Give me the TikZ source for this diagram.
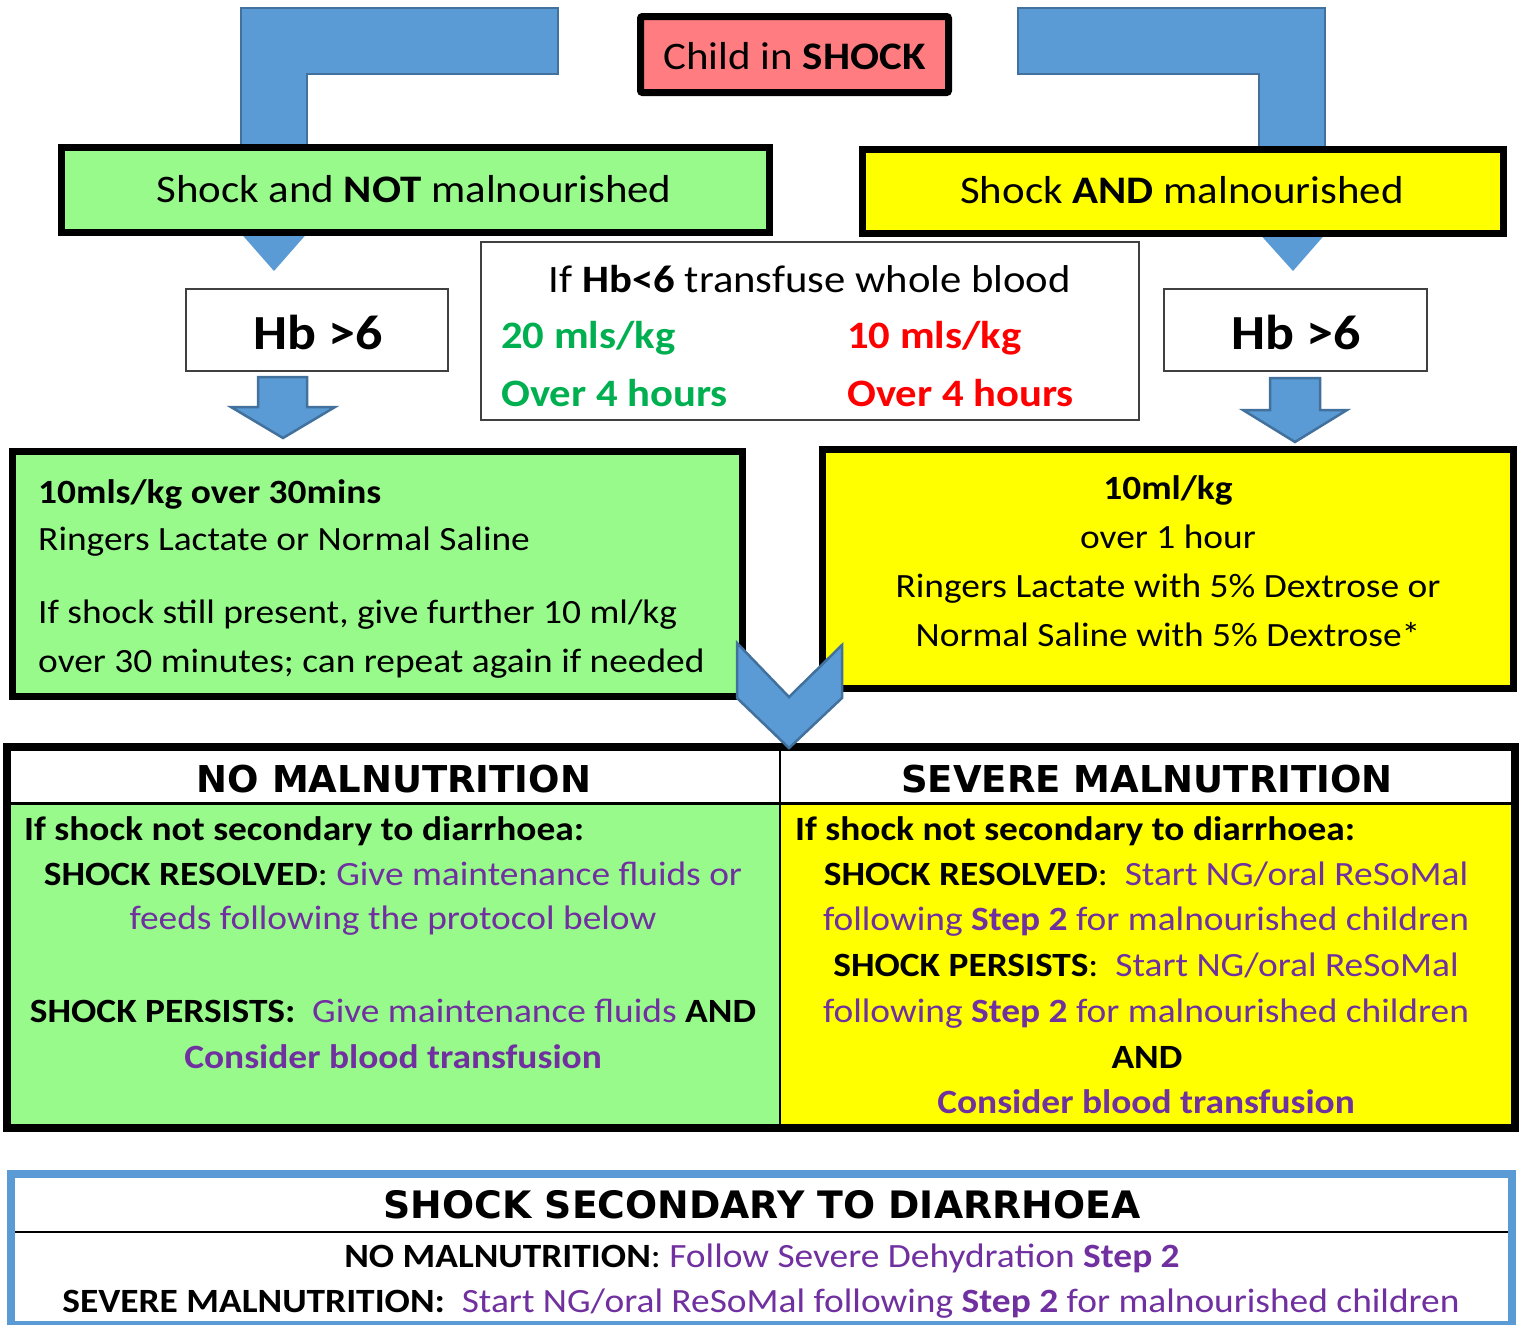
\documentclass[tikz,border=0pt]{standalone}
\usepackage{fontspec}
\setmainfont{Carlito}[FakeStretch=1.1]
\newfontfamily\headfont{DejaVu Sans}[BoldFont={DejaVu Sans Bold}]
\definecolor{arrowblue}{HTML}{5B9BD5}
\definecolor{arrowedge}{HTML}{41719C}
\definecolor{leafgreen}{HTML}{99FA8C}
\definecolor{signyellow}{HTML}{FFFF00}
\definecolor{rosefill}{HTML}{FF7C80}
\definecolor{txtpurple}{HTML}{7030A0}
\definecolor{txtgreen}{HTML}{00B050}
\definecolor{txtred}{HTML}{FF0000}
\definecolor{thinedge}{HTML}{404040}
\newcommand{\fs}[1]{\fontsize{#1}{#1}\selectfont}
\newcommand{\pur}[1]{\textcolor{txtpurple}{#1}}
\begin{document}
\begin{tikzpicture}[x=1pt,y=-1pt,
  blockarrow/.style={fill=arrowblue,draw=arrowedge,line width=2.5pt,line join=miter},
  tip/.style={fill=arrowblue},
  heavybox/.style={draw=black,line width=7pt,line join=miter},
  thinbox/.style={draw=thinedge,line width=1.5pt,fill=white},
  txt/.style={inner sep=0pt,font=\fs{34}},
  tabtxt/.style={inner sep=0pt,font=\fs{34}},
  headtxt/.style={inner sep=0pt,font=\headfont\bfseries\fs{37}}]
\useasboundingbox (0,0) rectangle (1524,1325);
\fill[white] (0,0) rectangle (1524,1325);

% L-shaped arrows from the title down to the two branches
\draw[blockarrow] (241,8) -- (558,8) -- (558,74) -- (307,74) -- (307,147) -- (241,147) -- cycle;
\draw[blockarrow] (1018,8) -- (1325,8) -- (1325,149) -- (1259,149) -- (1259,74) -- (1018,74) -- cycle;

% small pointers below the branch boxes
\fill[tip] (238,230) -- (310,230) -- (274,271) -- cycle;
\fill[tip] (1257,231) -- (1328,231) -- (1293,271) -- cycle;

% title
\node (title) [heavybox,fill=rosefill,rounded corners=2pt,minimum width=308pt,minimum height=76pt,inner sep=0pt] at (794.5,54.5) {};
\node (titletxt) [inner sep=0pt,font=\fs{39},anchor=base] at (794.5,69) {Child in \textbf{SHOCK}};

% branch boxes
\node (leftbranch) [heavybox,fill=leafgreen,minimum width=708pt,minimum height=85pt,inner sep=0pt] at (415,189.5) {};
\node (leftbranchtxt) [inner sep=0pt,font=\fs{39},anchor=base] at (414,202) {Shock and \textbf{NOT} malnourished};
\node (rightbranch) [heavybox,fill=signyellow,minimum width=641pt,minimum height=84pt,inner sep=0pt] at (1182.5,191) {};
\node (rightbranchtxt) [inner sep=0pt,font=\fs{39},anchor=base] at (1182,203) {Shock \textbf{AND} malnourished};

% haemoglobin checks
\node (hbleft) [thinbox,minimum width=262pt,minimum height=82pt,inner sep=0pt] at (317,330) {};
\node (hblefttxt) [inner sep=0pt,font=\bfseries\fs{49},anchor=base] at (318,349) {Hb >6};
\node (hbright) [thinbox,minimum width=263pt,minimum height=82pt,inner sep=0pt] at (1295.5,330) {};
\node (hbrighttxt) [inner sep=0pt,font=\bfseries\fs{49},anchor=base] at (1296,349) {Hb >6};

% transfusion box
\node (transf) [thinbox,minimum width=658pt,minimum height=178pt,inner sep=0pt] at (810,331) {};
\node (transf1) [inner sep=0pt,font=\fs{38.8},anchor=base] at (810,292) {If \textbf{Hb<6} transfuse whole blood};
\node (transf2) [inner sep=0pt,font=\bfseries\fs{38.8},anchor=base west,text=txtgreen] at (501,348) {20 mls/kg};
\node (transf3) [inner sep=0pt,font=\bfseries\fs{38.8},anchor=base west,text=txtred] at (847,348) {10 mls/kg};
\node (transf4) [inner sep=0pt,font=\bfseries\fs{38.8},anchor=base west,text=txtgreen] at (501,406) {Over 4 hours};
\node (transf5) [inner sep=0pt,font=\bfseries\fs{38.8},anchor=base west,text=txtred] at (847,406) {Over 4 hours};

% block arrows below the Hb checks
\draw[blockarrow] (258,377) -- (307,377) -- (307,407) -- (335,407) -- (283,438) -- (231,407) -- (258,407) -- cycle;
\draw[blockarrow] (1270,378) -- (1320,378) -- (1320,410) -- (1347,410) -- (1295,442) -- (1243,410) -- (1270,410) -- cycle;

% fluid boxes
\node (fluidleft) [heavybox,fill=leafgreen,minimum width=730pt,minimum height=245pt,inner sep=0pt] at (377.5,574) {};
\node (fl1) [txt,anchor=base west,font=\bfseries\fs{34}] at (38,503) {10mls/kg over 30mins};
\node (fl2) [txt,anchor=base west] at (38,550) {Ringers Lactate or Normal Saline};
\node (fl3) [txt,anchor=base west] at (38,623) {If shock still present, give further 10 ml/kg};
\node (fl4) [txt,anchor=base west] at (38,672) {over 30 minutes; can repeat again if needed};

\node (fluidright) [heavybox,fill=signyellow,minimum width=691pt,minimum height=239pt,inner sep=0pt] at (1168,569) {};
\node (fr1) [txt,anchor=base,font=\bfseries\fs{34}] at (1168,499) {10ml/kg};
\node (fr2) [txt,anchor=base] at (1168,548) {over 1 hour};
\node (fr3) [txt,anchor=base] at (1168,597) {Ringers Lactate with 5\% Dextrose or};
\node (fr4) [txt,anchor=base] at (1168,646) {Normal Saline with 5\% Dextrose*};

% outcome table
\node (table) [heavybox,line width=8pt,fill=white,minimum width=1508pt,minimum height=381pt,inner sep=0pt] at (761,937.5) {};
\fill[leafgreen] (11,805) rectangle (780,1124);
\fill[signyellow] (780,805) rectangle (1511,1124);
\draw[line width=3pt] (11,803.5) -- (1511,803.5);
\draw[line width=2pt] (780,751) -- (780,1124);
\node (thno) [headtxt,anchor=base] at (394,792) {NO MALNUTRITION};
\node (thsev) [headtxt,anchor=base] at (1147,792) {SEVERE MALNUTRITION};

\node (l1) [tabtxt,anchor=base west,font=\bfseries\fs{34}] at (24,840) {If shock not secondary to diarrhoea:};
\node (l2) [tabtxt,anchor=base] at (393,885) {\textbf{SHOCK RESOLVED}: \pur{Give maintenance fluids or}};
\node (l3) [tabtxt,anchor=base] at (393,929) {\pur{feeds following the protocol below}};
\node (l4) [tabtxt,anchor=base] at (393,1022) {\textbf{SHOCK PERSISTS:}~~\pur{Give maintenance fluids} \textbf{AND}};
\node (l5) [tabtxt,anchor=base,font=\bfseries\fs{34}] at (393,1068) {\pur{Consider blood transfusion}};

\node (r1) [tabtxt,anchor=base west,font=\bfseries\fs{34}] at (795,840) {If shock not secondary to diarrhoea:};
\node (r2) [tabtxt,anchor=base] at (1146,885) {\textbf{SHOCK RESOLVED}:~~\pur{Start NG/oral ReSoMal}};
\node (r3) [tabtxt,anchor=base] at (1146,930) {\pur{following \textbf{Step 2} for malnourished children}};
\node (r4) [tabtxt,anchor=base] at (1146,976) {\textbf{SHOCK PERSISTS}:~~\pur{Start NG/oral ReSoMal}};
\node (r5) [tabtxt,anchor=base] at (1146,1022) {\pur{following \textbf{Step 2} for malnourished children}};
\node (r6) [tabtxt,anchor=base,font=\bfseries\fs{34}] at (1147,1068) {AND};
\node (r7) [tabtxt,anchor=base,font=\bfseries\fs{34}] at (1146,1113) {\pur{Consider blood transfusion}};

% merging chevron
\draw[blockarrow] (737,643) -- (789,697) -- (842,645) -- (842,698) -- (789,748) -- (737,698) -- cycle;

% diarrhoea box
\node (diar) [draw=arrowblue,line width=8pt,fill=white,minimum width=1501pt,minimum height=151pt,inner sep=0pt] at (761.5,1249.5) {};
\draw[line width=2.5pt] (15,1232) -- (1508,1232);
\node (dh) [headtxt,anchor=base,font=\headfont\bfseries\fs{37.8}] at (762,1218) {SHOCK SECONDARY TO DIARRHOEA};
\node (d1) [tabtxt,anchor=base] at (762,1267) {\textbf{NO MALNUTRITION}: \pur{Follow Severe Dehydration \textbf{Step 2}}};
\node (d2) [tabtxt,anchor=base] at (761,1312) {\textbf{SEVERE MALNUTRITION:}~~\pur{Start NG/oral ReSoMal following \textbf{Step 2} for malnourished children}};
\end{tikzpicture}
\end{document}
